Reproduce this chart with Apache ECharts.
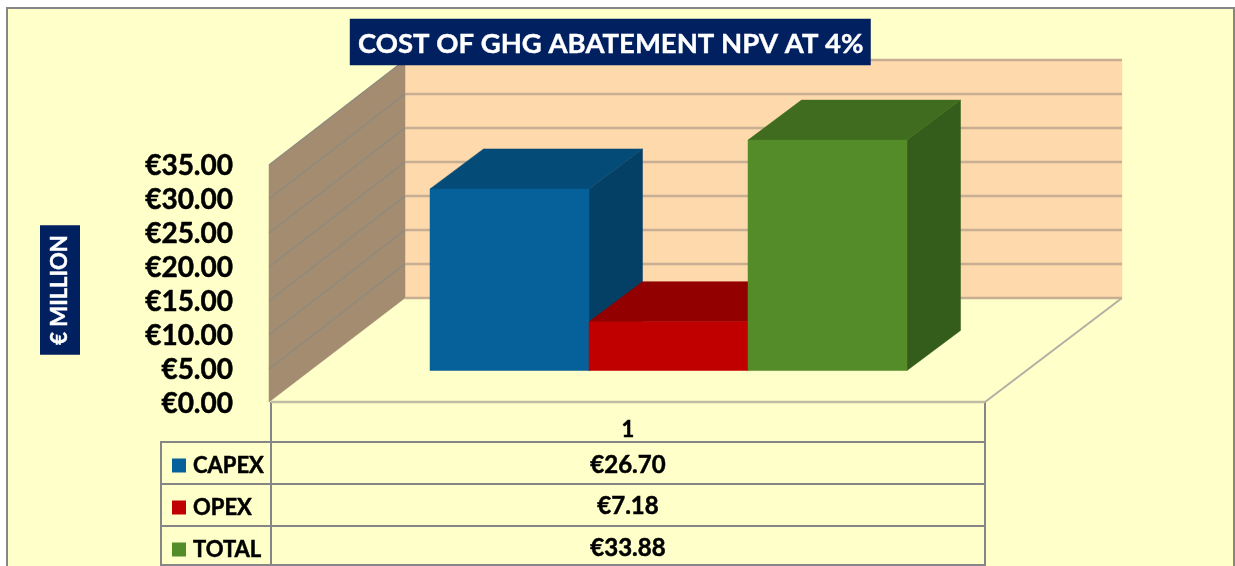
<!DOCTYPE html>
<html>
<head>
<meta charset="utf-8">
<style>html,body{margin:0;padding:0;background:#fff;overflow:hidden}#c{width:1235px;height:566px}</style>
<script src="https://cdn.jsdelivr.net/npm/echarts@6/dist/echarts.min.js"></script>
</head>
<body>
<div id="c"></div>
<script>
const categories = ['1'];
const seriesNames = ['CAPEX', 'OPEX', 'TOTAL'];
const capexValues = [26.70];
const opexValues = [7.18];
const totalValues = [33.88];
const yTicks = [0, 5, 10, 15, 20, 25, 30, 35];
const chartTitle = 'COST OF GHG ABATEMENT NPV AT 4%';
const yAxisTitle = '€ MILLION';

const FONT = 'Lato, "Open Sans", sans-serif';
const WEIGHT = 'bold';
const WALL = { dx: 134, dy: 104 };
const BAR = { width: 159, frontDx: 40.5, frontDy: 31.5, depthDx: 53.5, depthDy: 40 };
const BG = '#ffffc9', LINE = '#868686', NAVY = '#002060';
const palettes = [
  { front: '#06619a', top: '#054b78', side: '#043f66' },
  { front: '#c00000', top: '#930000', side: '#7d0000' },
  { front: '#558c2a', top: '#3f6c1f', side: '#345c1a' }
];
const money = v => '€' + v.toFixed(2);

const poly = (points, fill, stroke, lw) => ({
  type: 'polygon', shape: { points }, silent: true,
  style: { fill, stroke: stroke || fill, lineWidth: lw === undefined ? 0.5 : lw }
});
const seg = (x1, y1, x2, y2, stroke, lw) => ({
  type: 'line', shape: { x1, y1, x2, y2 }, silent: true, style: { stroke, lineWidth: lw, fill: null }
});

function renderWall(params, api) {
  const band = api.size([1, 0])[0];
  const p = api.coord([api.value(0), api.value(1)]);
  const base = api.coord([api.value(0), 0]);
  const top = api.coord([api.value(0), yTicks[yTicks.length - 1]]);
  const L = p[0] - band / 2, R = p[0] + band / 2, y = p[1];
  const children = [];
  if (params.dataIndex === 0) {
    children.push(poly([[L + WALL.dx, top[1] - WALL.dy], [R + WALL.dx + 3, top[1] - WALL.dy], [R + WALL.dx + 3, base[1] - WALL.dy], [L + WALL.dx, base[1] - WALL.dy]], '#fed9ab'));
    children.push(poly([[L - 2, top[1] + 1], [L + WALL.dx, top[1] - WALL.dy], [L + WALL.dx, base[1] - WALL.dy], [L - 2, base[1]]], '#a38c70'));
    children.push(seg(L, base[1], R, base[1], '#bdbca4', 2.5));
    children.push(seg(R, base[1], R + WALL.dx + 3, base[1] - WALL.dy, '#b0b0a4', 2));
  }
  children.push(seg(L + WALL.dx, y - WALL.dy, R + WALL.dx + 3, y - WALL.dy, '#c8ae93', 2.5));
  if (params.dataIndex > 0) children.push(seg(L - 2, y + 1, L + WALL.dx, y - WALL.dy, '#8f8a80', 1.5));
  return { type: 'group', children };
}

function renderBar(i) {
  return function (params, api) {
    const cat = api.value(0), val = api.value(1);
    const band = api.coord([cat, 0]);
    const topPt = api.coord([cat, val]);
    const left = band[0] + BAR.frontDx + (i - 1.5) * BAR.width;
    const right = left + BAR.width;
    const yb = band[1] - BAR.frontDy, yt = topPt[1] - BAR.frontDy;
    const d = BAR.depthDx, e = BAR.depthDy;
    const c = palettes[i];
    return {
      type: 'group',
      children: [
        poly([[right, yb], [right + d, yb - e], [right + d, yt - e], [right, yt]], c.side),
        poly([[left, yt], [right, yt], [right + d, yt - e], [left + d, yt - e]], c.top),
        poly([[left, yb], [right, yb], [right, yt], [left, yt]], c.front)
      ]
    };
  };
}

const seriesValues = [capexValues, opexValues, totalValues];
const rowY = [465, 506, 548];
const tableLines = [
  [271, 402, 271, 566], [985, 402, 985, 566], [161, 441, 161, 566],
  [161, 442, 985, 442], [161, 484, 985, 484], [161, 526, 985, 526], [161, 565, 985, 565]
];
const heavy = { textBorderColor: '#000', textBorderWidth: 0.5 };

const graphic = [
  { type: 'rect', z: -10, silent: true, shape: { x: 7, y: 8, width: 1227, height: 570 }, style: { fill: BG, stroke: LINE, lineWidth: 2 } },
  ...tableLines.map(l => ({ type: 'line', z: 1, silent: true, shape: { x1: l[0], y1: l[1], x2: l[2], y2: l[3] }, style: { stroke: LINE, lineWidth: 2 } })),
  ...seriesValues.map((arr, i) => ({
    type: 'text', z: 3, silent: true, x: 628, y: rowY[i],
    style: { text: money(arr[0]), fill: '#000', font: WEIGHT + ' 24px ' + FONT, align: 'center', verticalAlign: 'middle', stroke: '#000', lineWidth: 0.5 }
  })),
  {
    type: 'text', z: 5, silent: true, x: 60, y: 290, rotation: Math.PI / 2,
    style: { text: yAxisTitle, fill: '#fff', font: WEIGHT + ' 22px ' + FONT, align: 'center', verticalAlign: 'middle', backgroundColor: NAVY, padding: [9, 10, 9, 10], stroke: '#fff', lineWidth: 0.4 }
  }
];

const series = [
  { type: 'custom', name: 'walls', silent: true, renderItem: renderWall, encode: { x: 0, y: 1 }, data: yTicks.map(t => [0, t]), z: 1 },
  ...seriesNames.map((name, i) => ({
    type: 'custom', name, silent: true, renderItem: renderBar(i), encode: { x: 0, y: 1 },
    itemStyle: { color: palettes[i].front }, z: 2,
    data: seriesValues[i].map((v, k) => [k, v])
  }))
];

const chart = echarts.init(document.getElementById('c'), null, { renderer: 'canvas' });
chart.setOption({
  animation: false,
  backgroundColor: '#fff',
  textStyle: { fontFamily: FONT },
  title: {
    text: chartTitle, left: 350, top: 19, padding: [11, 7, 7, 8], backgroundColor: NAVY,
    textStyle: { color: '#fff', fontFamily: FONT, fontWeight: WEIGHT, fontSize: 27.5, lineHeight: 28, textBorderColor: '#fff', textBorderWidth: 0.4 }
  },
  legend: {
    data: seriesNames, orient: 'vertical', left: 167, top: 449, padding: 5,
    icon: 'rect', itemWidth: 14, itemHeight: 14, itemGap: 19, selectedMode: false,
    textStyle: { color: '#000', fontFamily: FONT, fontWeight: WEIGHT, fontSize: 22, padding: [0, 0, 0, 2], lineHeight: 23, ...heavy }
  },
  grid: { left: 271, right: 250, top: 164, bottom: 164 },
  xAxis: {
    type: 'category', data: categories,
    axisLine: { show: false }, axisTick: { show: false }, splitLine: { show: false },
    axisLabel: { color: '#000', fontFamily: FONT, fontWeight: WEIGHT, fontSize: 22, margin: 17, ...heavy }
  },
  yAxis: {
    type: 'value', min: 0, max: 35, interval: 5,
    axisLine: { show: false }, axisTick: { show: false }, splitLine: { show: false },
    axisLabel: {
      margin: 38, formatter: v => '{t|' + money(v) + '}',
      rich: { t: { color: '#000', fontFamily: FONT, fontWeight: WEIGHT, fontSize: 28, lineHeight: 28, padding: [4, 0, 0, 0], ...heavy } }
    }
  },
  graphic,
  series
});
</script>
</body>
</html>
